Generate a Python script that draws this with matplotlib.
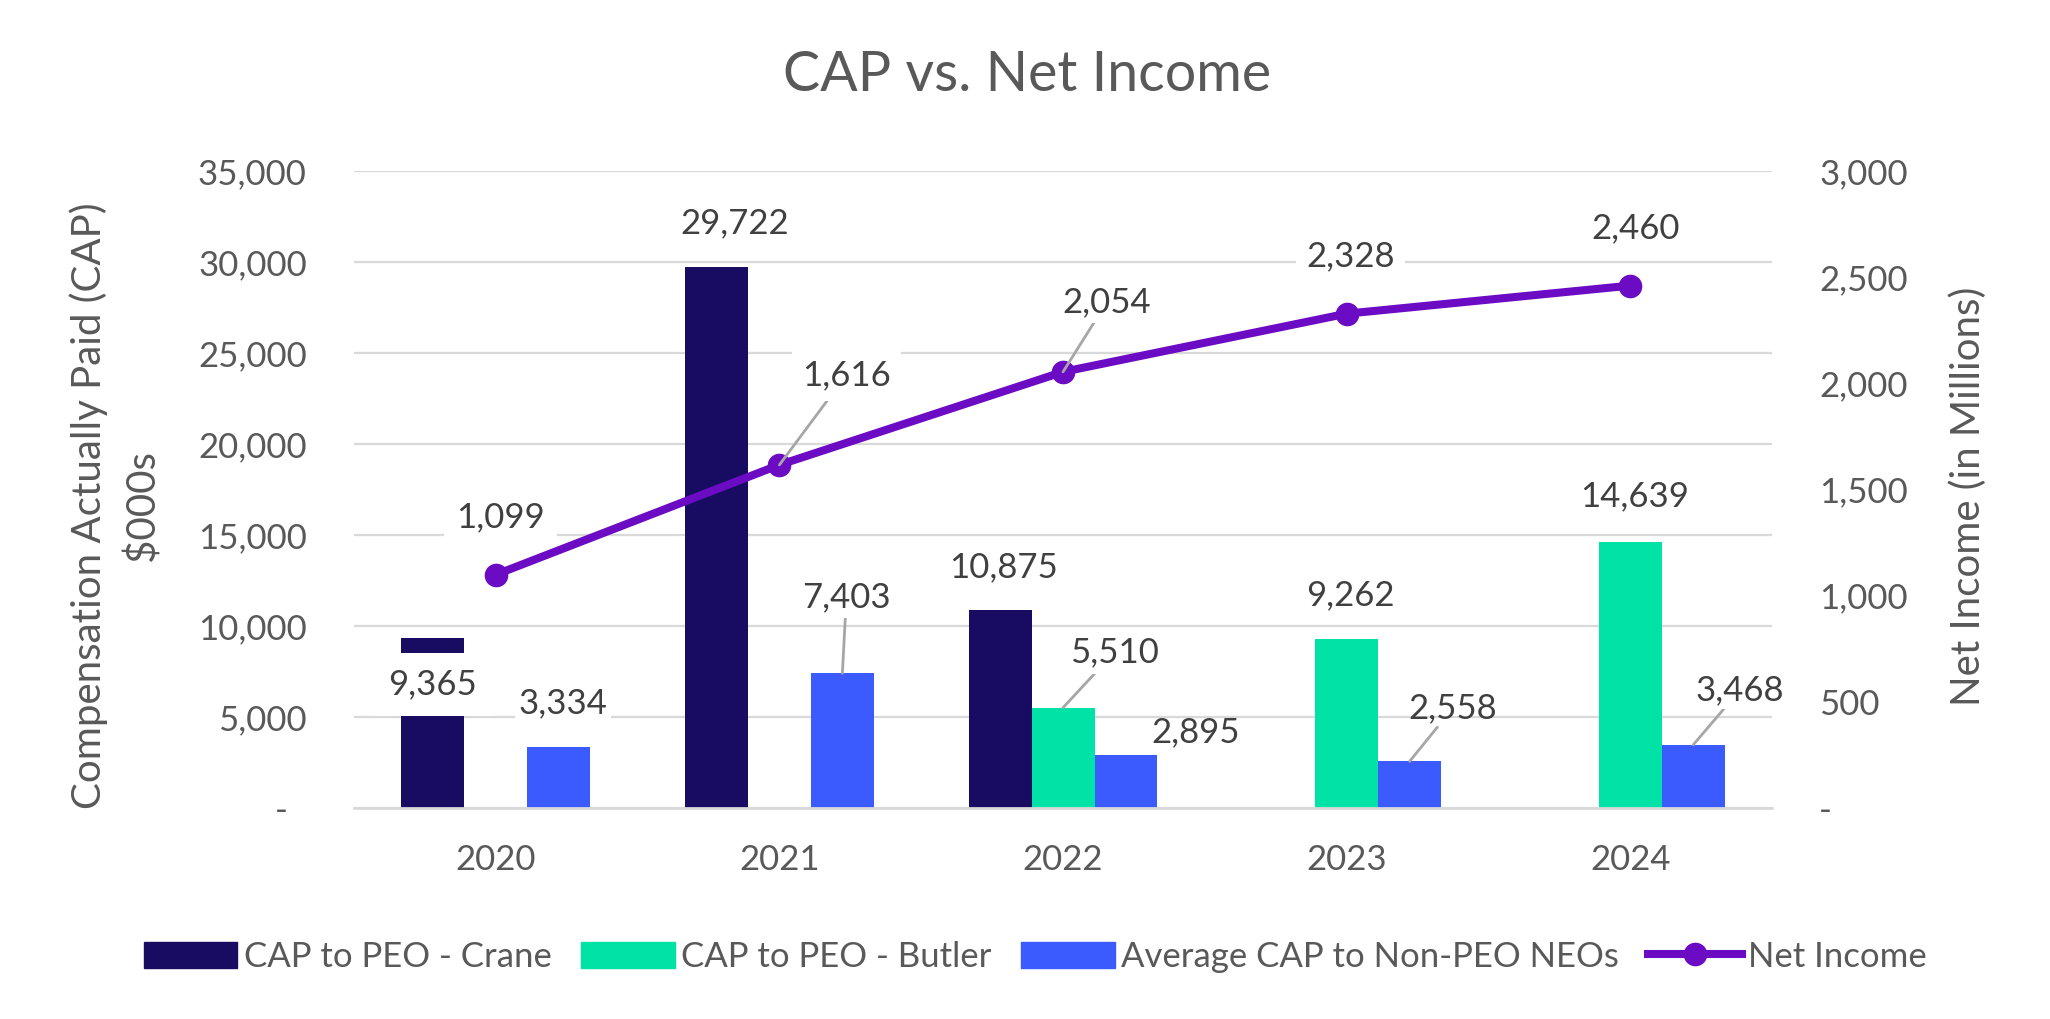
import matplotlib
matplotlib.use('Agg')
import matplotlib.pyplot as plt
import numpy as np
from matplotlib.patches import Patch
from matplotlib.lines import Line2D

plt.rcParams['font.family'] = ['Lato', 'DejaVu Sans']

# data
years = ['2020', '2021', '2022', '2023', '2024']
cap_crane = [9365, 29722, 10875, np.nan, np.nan]
cap_butler = [np.nan, np.nan, 5510, 9262, 14639]
cap_avg_neo = [3334, 7403, 2895, 2558, 3468]
net_income = [1099, 1616, 2054, 2328, 2460]

series_names = ['CAP to PEO - Crane', 'CAP to PEO - Butler',
                'Average CAP to Non-PEO NEOs', 'Net Income']

# colours
c_crane = '#170C62'
c_butler = '#00E2A6'
c_avg = '#3B5BFE'
c_ni = '#6C0BC4'
grid_c = '#D9D9D9'
axis_txt = '#595959'
lab_txt = '#404040'

# label offsets (pixels, dx, dy), leader line flag, white box padding
off_crane = [(0, -47), (18, 44), (3, 43), None, None]
off_butler = [None, None, (51, 55), (4, 44), (4, 45)]
off_avg = [(4, 44), (4, 76), (70, 23), (43, 53), (47, 55)]
off_ni = [(5, 57), (67, 90), (44, 70), (4, 57), (5, 57)]
lead_crane = [False] * 5
lead_butler = [False, False, True, False, False]
lead_avg = [False, True, False, True, True]
lead_ni = [False, True, True, False, False]
pad_crane = [0.45, 0.15, 0.15, None, None]
pad_butler = [None, None, 0.15, 0.15, 0.15]
pad_avg = [0.1, 0.15, None, None, 0.1]
pad_ni = [0.35, 0.3, 0.15, 0.3, 0.1]

fig = plt.figure(figsize=(20.5, 10.19), dpi=100)
ax = fig.add_axes([0.1727, 0.2071, 0.8644 - 0.1727, 0.8322 - 0.2071])
ax2 = ax.twinx()

x = np.arange(len(years))
w = 0.222

ax.bar(x - w, cap_crane, w, color=c_crane, zorder=2)
ax.bar(x, cap_butler, w, color=c_butler, zorder=2)
ax.bar(x + w, cap_avg_neo, w, color=c_avg, zorder=2)

ax2.plot(x, net_income, color=c_ni, lw=5.8, marker='o', markersize=16,
         zorder=3, solid_capstyle='round')

ax.set_xlim(-0.5, len(years) - 0.5)
ax.set_ylim(0, 35000)
ax2.set_ylim(0, 3000)
ax.set_yticks(np.arange(0, 35001, 5000))
ax2.set_yticks(np.arange(0, 3001, 500))


def fmt_num(v, pos=None):
    return '-' if v == 0 else f'{v:,.0f}'


ax.yaxis.set_major_formatter(plt.FuncFormatter(fmt_num))
ax2.yaxis.set_major_formatter(plt.FuncFormatter(fmt_num))
ax.set_xticks(x)
ax.set_xticklabels(years)

ax.tick_params(axis='y', length=0, pad=34, labelsize=25, labelcolor=axis_txt)
ax2.tick_params(axis='y', length=0, pad=34, labelsize=25, labelcolor=axis_txt)
ax.tick_params(axis='x', length=0, pad=26, labelsize=25, labelcolor=axis_txt)
# accounting-style dash sits a bit left of the number column
ax.yaxis.get_major_ticks()[0].set_pad(48)

ax.grid(axis='y', color=grid_c, lw=1.6)
ax.set_axisbelow(True)
for s in ['top', 'left', 'right']:
    ax.spines[s].set_visible(False)
    ax2.spines[s].set_visible(False)
ax2.spines['bottom'].set_visible(False)
ax.spines['bottom'].set_color(grid_c)
ax.spines['bottom'].set_linewidth(2)

leader = dict(arrowstyle='-', color='#A6A6A6', lw=2, shrinkA=0, shrinkB=0)


def put_labels(xs, vals, offs, leads, pads, trans):
    for xi, v, o, ld, p in zip(xs, vals, offs, leads, pads):
        if o is None or np.isnan(v):
            continue
        box = None
        if p is not None:
            box = dict(boxstyle=f'square,pad={p}', fc='white', ec='none')
        ax2.annotate(f'{v:,.0f}', xy=(xi, v), xycoords=trans,
                     xytext=o, textcoords='offset pixels',
                     ha='center', va='center', fontsize=25, color=lab_txt,
                     bbox=box, arrowprops=leader if ld else None, zorder=10)


put_labels(x - w, cap_crane, off_crane, lead_crane, pad_crane, ax.transData)
put_labels(x, cap_butler, off_butler, lead_butler, pad_butler, ax.transData)
put_labels(x + w, cap_avg_neo, off_avg, lead_avg, pad_avg, ax.transData)
put_labels(x, net_income, off_ni, lead_ni, pad_ni, ax2.transData)

fig.text(0.501, 0.926, 'CAP vs. Net Income', ha='center', va='center',
         fontsize=40, color=axis_txt)
fig.text(0.0561, 0.504, 'Compensation Actually Paid (CAP)\n$000s',
         ha='center', va='center', rotation=90, multialignment='center',
         fontsize=29, color=axis_txt, linespacing=1.5)
fig.text(0.96, 0.513, 'Net Income (in Millions)', ha='center', va='center',
         rotation=90, fontsize=29, color=axis_txt)

handles = [Patch(color=c_crane), Patch(color=c_butler), Patch(color=c_avg),
           Line2D([0], [0], color=c_ni, lw=5.8, marker='o', markersize=16)]
fig.legend(handles, series_names, loc='center', bbox_to_anchor=(0.505, 0.061),
           ncol=4, frameon=False, fontsize=25, labelcolor=axis_txt,
           handlelength=2.7, handleheight=0.78, handletextpad=0.18,
           columnspacing=0.85)

fig.savefig('out.png', dpi=100, facecolor='white')
